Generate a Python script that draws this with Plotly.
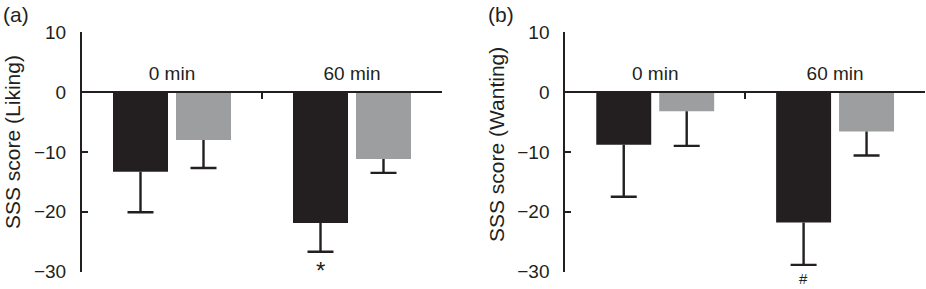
import plotly.graph_objects as go

categories = ["0 min", "60 min"]
liking_black = [-13.3, -21.9]
liking_black_err = [6.8, 4.8]
liking_gray = [-8.0, -11.2]
liking_gray_err = [4.7, 2.3]
wanting_black = [-8.8, -21.8]
wanting_black_err = [8.7, 7.1]
wanting_gray = [-3.2, -6.6]
wanting_gray_err = [5.8, 4.0]
y_ticks = [10, 0, -10, -20, -30]

W, H = 926, 289
BLACK = "#231f20"
GRAY = "#9d9ea0"
FONT = "Liberation Sans, Arial, Helvetica, sans-serif"

y_top_px, y_bot_px = 32.3, 271.5
ydom = [1 - y_bot_px / H, 1 - y_top_px / H]
yrange = [-30, 10]
zero_pos = ydom[0] + (0 - yrange[0]) / (yrange[1] - yrange[0]) * (ydom[1] - ydom[0])

panels = [
    dict(x="x", y="y", dom=[82 / W, 442 / W], vals=(liking_black, liking_black_err, liking_gray, liking_gray_err),
         title="SSS score (Liking)", label="(a)", mark="*", tx=12, ty=142, lx=1),
    dict(x="x2", y="y2", dom=[565.3 / W, 925 / W], vals=(wanting_black, wanting_black_err, wanting_gray, wanting_gray_err),
         title="SSS score (Wanting)", label="(b)", mark="#", tx=496, ty=145, lx=486),
]

fig = go.Figure()
for p in panels:
    bvals, berr, gvals, gerr = p["vals"]
    for og, vals, err, col in (("1", bvals, berr, BLACK), ("2", gvals, gerr, GRAY)):
        fig.add_trace(go.Bar(
            x=categories, y=vals, xaxis=p["x"], yaxis=p["y"], offsetgroup=og,
            marker=dict(color=col, line=dict(width=0)),
            error_y=dict(type="data", symmetric=False, array=[0] * len(vals), arrayminus=err,
                         color=BLACK, thickness=2.4, width=0),
            showlegend=False, hoverinfo="skip",
        ))
        fig.add_trace(go.Bar(
            x=categories, y=[v - e for v, e in zip(vals, err)], xaxis=p["x"], yaxis=p["y"], offsetgroup=og,
            marker=dict(color="rgba(0,0,0,0)", line=dict(width=0)),
            error_y=dict(type="data", symmetric=False, array=[0] * len(vals), arrayminus=[0] * len(vals),
                         color=BLACK, thickness=2.4, width=13),
            showlegend=False, hoverinfo="skip",
        ))

layout = dict(
    template="none",
    width=W, height=H, margin=dict(l=0, r=0, t=0, b=0, pad=0), autosize=False,
    paper_bgcolor="white", plot_bgcolor="white",
    barmode="group", bargap=0.3, bargroupgap=0.127,
    font=dict(family=FONT, size=19, color=BLACK),
    annotations=[],
)
for i, p in enumerate(panels):
    sfx = "" if i == 0 else "2"
    layout["xaxis" + sfx] = dict(
        domain=p["dom"], anchor="free", position=zero_pos, side="top",
        type="category", range=[-0.5, 1.5], automargin=False,
        showline=True, linecolor=BLACK, linewidth=2,
        ticks="inside", tickson="boundaries", ticklen=6, tickwidth=2, tickcolor=BLACK,
        showgrid=False, zeroline=False, ticklabelstandoff=4,
        tickfont=dict(size=19, color=BLACK),
    )
    layout["yaxis" + sfx] = dict(
        domain=ydom, anchor="x" + sfx, range=yrange, automargin=False,
        tickvals=y_ticks, showline=True, linecolor=BLACK, linewidth=2,
        ticks="inside", ticklen=6, tickwidth=2, tickcolor=BLACK,
        showgrid=False, zeroline=False, ticklabelstandoff=10,
        tickfont=dict(size=19, color=BLACK),
    )
    bvals, berr, _, _ = p["vals"]
    j = 1
    layout["annotations"].append(dict(
        x=j - 0.175, y=bvals[j] - berr[j], xref=p["x"], yref=p["y"],
        text=p["mark"], showarrow=False, yanchor="top", yshift=-3,
        font=dict(size=24 if p["mark"] == "*" else 15, color=BLACK),
    ))
    layout["annotations"].append(dict(
        x=p["tx"] / W, y=1 - p["ty"] / H, xref="paper", yref="paper",
        text=p["title"], textangle=-90, showarrow=False,
        xanchor="center", yanchor="middle", font=dict(size=21, color=BLACK),
    ))
    layout["annotations"].append(dict(
        x=p["lx"] / W, y=1 - 1 / H, xref="paper", yref="paper",
        text=p["label"], showarrow=False, xanchor="left", yanchor="top",
        font=dict(size=21, color=BLACK),
    ))

fig.update_layout(**layout)
fig.write_html(
    "out.html",
    config={"displayModeBar": False, "staticPlot": True},
    post_script="document.body.style.margin='0';document.body.style.overflow='hidden';",
)
